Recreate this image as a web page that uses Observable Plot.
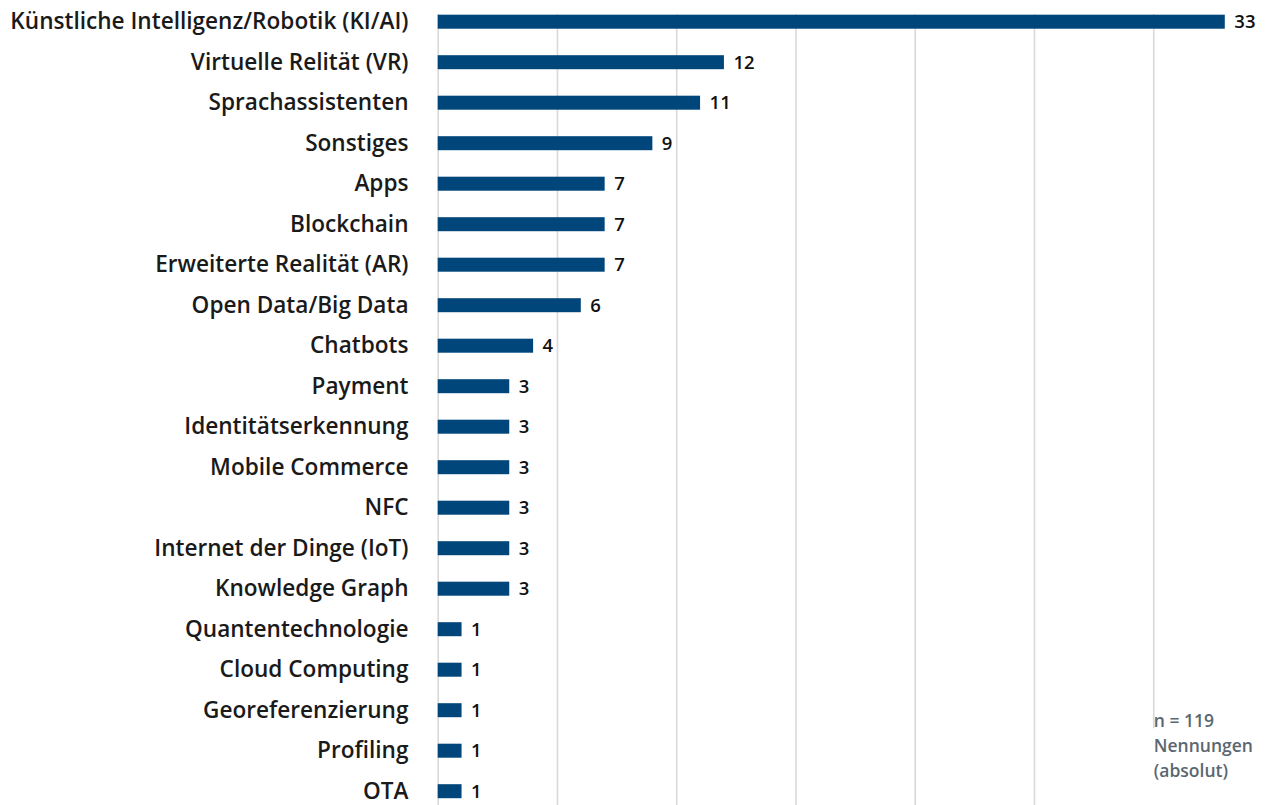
<!DOCTYPE html>
<html>
<head>
<meta charset="utf-8">
<script src="https://cdn.jsdelivr.net/npm/d3@7"></script>
<script src="https://cdn.jsdelivr.net/npm/@observablehq/plot@0.6"></script>
<style>
  html, body { margin: 0; padding: 0; background: #fff; }
  #chart svg { display: block; }
</style>
</head>
<body>
<div id="chart"></div>
<script>
const categories = [
  "Künstliche Intelligenz/Robotik (KI/AI)",
  "Virtuelle Relität (VR)",
  "Sprachassistenten",
  "Sonstiges",
  "Apps",
  "Blockchain",
  "Erweiterte Realität (AR)",
  "Open Data/Big Data",
  "Chatbots",
  "Payment",
  "Identitätserkennung",
  "Mobile Commerce",
  "NFC",
  "Internet der Dinge (IoT)",
  "Knowledge Graph",
  "Quantentechnologie",
  "Cloud Computing",
  "Georeferenzierung",
  "Profiling",
  "OTA"
];
const values = [33, 12, 11, 9, 7, 7, 7, 6, 4, 3, 3, 3, 3, 3, 3, 1, 1, 1, 1, 1];
const xTicks = [0, 5, 10, 15, 20, 25, 30];
const noteLines = ["n = 119", "Nennungen", "(absolut)"];
const noteAt = 30;

const data = categories.map((c, i) => ({category: c, value: values[i]}));

const FONT = "'Open Sans', 'Noto Sans', sans-serif";

const chart = Plot.plot({
  width: 1270,
  height: 805,
  marginLeft: 437,
  marginRight: 0,
  marginTop: 14,
  marginBottom: 0,
  style: {fontFamily: FONT, background: "#fff"},
  x: {domain: [0, 35], range: [437.7, 1272.5], axis: null},
  y: {domain: categories, range: [1.45, 811.45], paddingInner: 0.654, paddingOuter: 0.327, round: false, label: null},
  marks: [
    Plot.gridX(xTicks, {stroke: "#d9d9d9", strokeOpacity: 1, strokeWidth: 1.6}),
    Plot.barX(data, {x: "value", y: "category", fill: "#00467a", insetTop: 0, insetBottom: 0}),
    Plot.text(data, {x: "value", y: "category", text: d => String(d.value), textAnchor: "start", dx: 9, fontSize: 18.5, fontWeight: 600, fill: "#111"}),
    Plot.axisY({tickSize: 0, tickPadding: 29, fontSize: 22.6, fontWeight: 600, fill: "#1a1a1a", label: null}),
    Plot.text([noteLines.join("\n")], {x: () => noteAt, frameAnchor: "bottom", textAnchor: "start", lineAnchor: "bottom", lineHeight: 1.42, dy: -29, fontSize: 17.5, fontWeight: 600, fill: "#5b6770", className: "note"})
  ]
});

document.getElementById("chart").appendChild(chart);

// white backdrop behind the note so the gridline is interrupted
const noteG = d3.select(chart).select("g.note");
if (!noteG.empty()) {
  const bb = noteG.node().getBBox();
  d3.select(noteG.node().parentNode)
    .insert("rect", () => noteG.node())
    .attr("x", bb.x - 4).attr("y", bb.y - 8)
    .attr("width", bb.width + 8).attr("height", bb.height + 20)
    .attr("fill", "#fff");
}
</script>
</body>
</html>
